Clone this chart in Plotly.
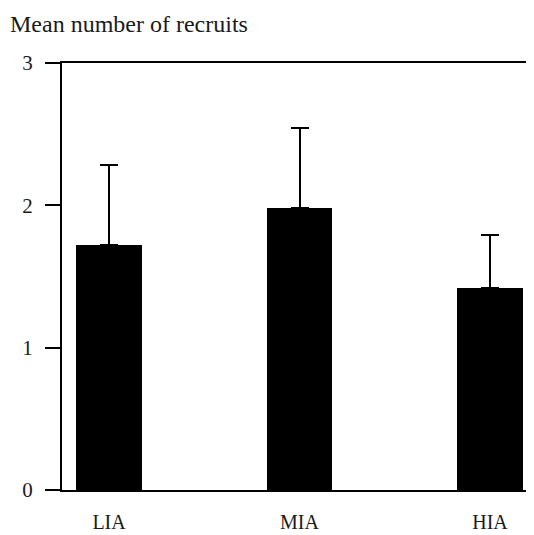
import plotly.graph_objects as go

categories = ["LIA", "MIA", "HIA"]
means = [1.72, 1.98, 1.42]
errors_up = [0.56, 0.56, 0.37]
y_ticks = [0, 1, 2, 3]
y_title = "Mean number of recruits"

font_family = "Liberation Serif, Times New Roman, serif"

# page body has an 8px margin; figure sized to fit the 534x535 window
W, H = 526, 527

fig = go.Figure()
fig.add_trace(go.Bar(
    x=list(range(len(categories))),
    y=means,
    width=0.346,
    marker=dict(color="black", line=dict(width=0)),
    error_y=dict(type="data", symmetric=False, array=errors_up,
                 arrayminus=[0] * len(means),
                 color="black", thickness=2, width=9),
))

fig.update_layout(
    width=W, height=H,
    margin=dict(l=54, r=0, t=55, b=45),
    paper_bgcolor="white", plot_bgcolor="white",
    showlegend=False,
    font=dict(family=font_family, color="#1a1a1a", size=21),
    title=dict(text=y_title, x=2 / W, xanchor="left",
               y=1 - 16 / H, yanchor="middle",
               font=dict(family=font_family, size=24, color="#1a1a1a")),
    bargap=0,
)

fig.update_xaxes(
    range=[-0.247, 2.231],
    tickmode="array", tickvals=list(range(len(categories))), ticktext=categories,
    ticks="", showgrid=False, zeroline=False,
    showline=True, linecolor="black", linewidth=2, mirror=True,
    ticklabelstandoff=13,
    tickfont=dict(family=font_family, size=20, color="#1a1a1a"),
)
fig.update_yaxes(
    range=[0, 3],
    tickmode="array", tickvals=y_ticks, ticktext=[str(v) for v in y_ticks],
    ticks="outside", ticklen=15, tickwidth=2, tickcolor="black",
    showgrid=False, zeroline=False,
    showline=True, linecolor="black", linewidth=2,
    ticklabelstandoff=8,
    tickfont=dict(family=font_family, size=21, color="#1a1a1a"),
)

fig.write_html("out.html")
